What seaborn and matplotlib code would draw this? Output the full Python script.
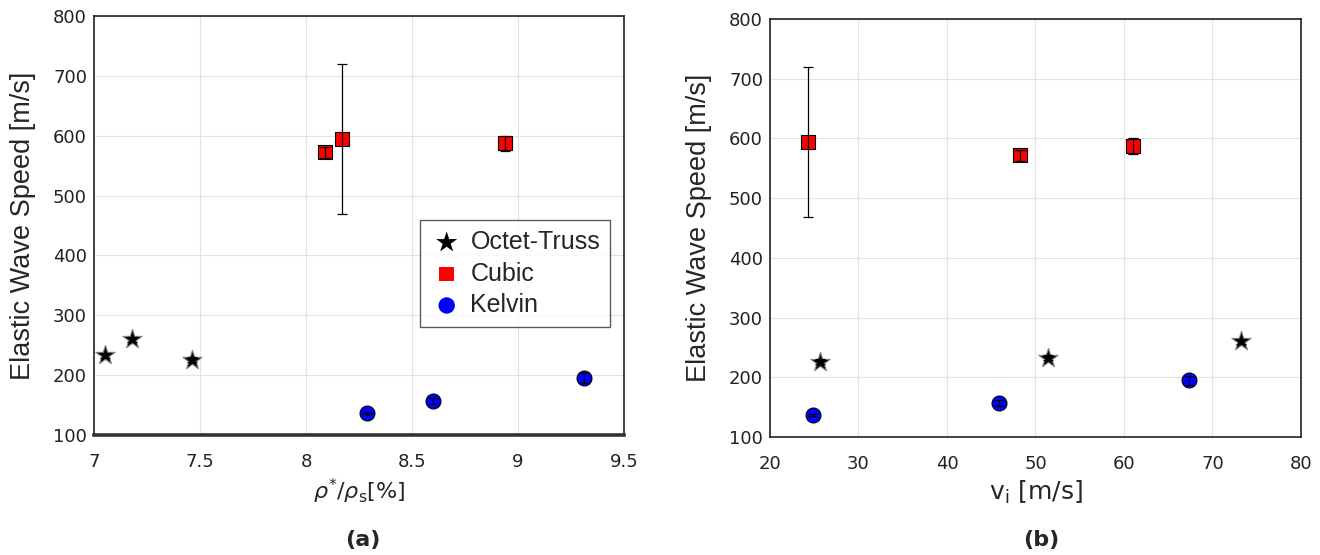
import pandas as pd
import numpy as np

import matplotlib
matplotlib.use('Agg')
import matplotlib.pyplot as plt
import seaborn as sns

# data
lattices = ['Octet-Truss', 'Cubic', 'Kelvin']

octet_density = [7.05, 7.18, 7.46]
octet_velocity = [51.4, 73.2, 25.6]
octet_speed = [233, 260, 226]
octet_err = [4, 4, 4]

cubic_density = [8.09, 8.17, 8.94]
cubic_velocity = [48.3, 24.3, 61.0]
cubic_speed = [572, 594, 587]
cubic_err = [9, 125, 13]

kelvin_density = [8.29, 8.60, 9.31]
kelvin_velocity = [24.9, 45.9, 67.4]
kelvin_speed = [137, 157, 195]
kelvin_err = [2, 5, 8]

colors = {'Octet-Truss': 'black', 'Cubic': 'red', 'Kelvin': 'blue'}
markers = {'Octet-Truss': '*', 'Cubic': 's', 'Kelvin': 'o'}
sizes = {'Octet-Truss': 210, 'Cubic': 90, 'Kelvin': 115}


def build_frame():
    parts = []
    for name, dens, vel, spd, err in [
            ('Octet-Truss', octet_density, octet_velocity, octet_speed, octet_err),
            ('Cubic', cubic_density, cubic_velocity, cubic_speed, cubic_err),
            ('Kelvin', kelvin_density, kelvin_velocity, kelvin_speed, kelvin_err)]:
        parts.append(pd.DataFrame({'lattice': name, 'density': dens, 'velocity': vel,
                                   'speed': spd, 'err': err}))
    return pd.concat(parts, ignore_index=True)


def draw_panel(ax, df, x):
    for name in lattices:
        sub = df[df['lattice'] == name]
        edge = '0.5' if name == 'Octet-Truss' else 'black'
        sns.scatterplot(data=sub, x=x, y='speed', ax=ax, color=colors[name],
                        marker=markers[name], s=sizes[name], edgecolor=edge,
                        linewidth=0.8, label=name, zorder=3)
        ax.errorbar(sub[x], sub['speed'], yerr=sub['err'], fmt='none',
                    ecolor='black', elinewidth=0.9, capsize=3.5, capthick=0.9, zorder=4)
    ax.set_ylim(100, 800)
    ax.set_yticks(np.arange(100, 801, 100))
    ax.grid(True, color='#e2e2e2', linewidth=0.8)
    ax.set_axisbelow(True)
    for sp in ax.spines.values():
        sp.set_color('#222222')
        sp.set_linewidth(1.2)
    ax.tick_params(direction='in', length=5, width=1, labelsize=13,
                   colors='#222222', top=False, right=False)
    ax.tick_params(axis='x', pad=13)
    ax.tick_params(axis='y', pad=5)
    ax.set_ylabel('Elastic Wave Speed [m/s]', fontsize=19.5,
                  family='Liberation Sans', labelpad=12)


df = build_frame()

sns.set_style('white')
plt.rcParams['font.family'] = ['DejaVu Sans']

fig = plt.figure(figsize=(13.2, 5.55), dpi=100)
ax1 = fig.add_axes([0.0712, 0.2162, 0.4015, 0.755])
ax2 = fig.add_axes([0.5833, 0.2126, 0.4023, 0.753])

draw_panel(ax1, df, 'density')
ax1.set_xlim(7, 9.5)
ax1.set_xticks([7, 7.5, 8, 8.5, 9, 9.5])
ax1.set_xticklabels(['7', '7.5', '8', '8.5', '9', '9.5'])
ax1.spines['bottom'].set_linewidth(2.6)
ax1.spines['bottom'].set_color('#333333')
ax1.set_xlabel(r'$\rho^{*}/\rho_{\mathrm{s}}$[%]', fontsize=16, labelpad=4)
leg = ax1.legend(loc='upper right', bbox_to_anchor=(0.974, 0.513),
                 borderaxespad=0,
                 prop={'family': 'Liberation Sans', 'size': 18},
                 frameon=True, fancybox=False, edgecolor='#333333',
                 borderpad=0.4, handletextpad=0.3, labelspacing=0.3,
                 handlelength=1.3, markerscale=1.1)
leg.get_frame().set_linewidth(1.0)
for h in leg.legend_handles:
    h.set_edgecolor('none')

draw_panel(ax2, df, 'velocity')
ax2.set_xlim(20, 80)
ax2.set_xticks(np.arange(20, 81, 10))
ax2.set_xlabel(r'v$_{\mathrm{i}}$ [m/s]', fontsize=18, labelpad=4)
ax2.get_legend().remove()

fig.text(0.275, 0.027, '(a)', ha='center', va='center', fontsize=16, fontweight='bold')
fig.text(0.789, 0.027, '(b)', ha='center', va='center', fontsize=16, fontweight='bold')

fig.savefig('out.png', dpi=100)
